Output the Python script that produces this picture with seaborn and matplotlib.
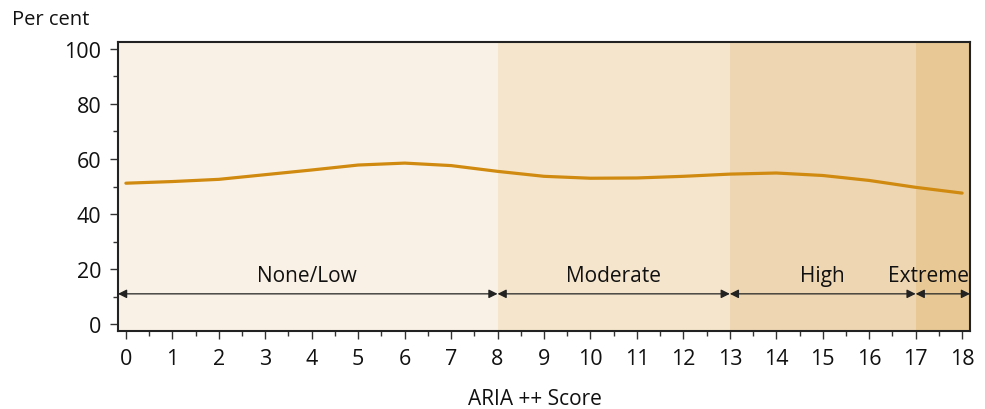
import matplotlib
matplotlib.use("Agg")
import matplotlib.pyplot as plt
import seaborn as sns
import pandas as pd
from matplotlib.ticker import MultipleLocator

score = list(range(19))
per_cent = [51.2, 51.8, 52.6, 54.3, 56.0, 57.8, 58.5, 57.6, 55.5, 53.7,
            53.0, 53.1, 53.7, 54.5, 54.9, 54.0, 52.2, 49.7, 47.6]

band_names = ["None/Low", "Moderate", "High", "Extreme"]
band_starts = [-0.17, 8, 13, 17]
band_ends = [8, 13, 17, 18.17]
band_colors = ["#FAF1E6", "#F5E5CC", "#EED6B2", "#E8C995"]
label_x = [3.9, 10.5, 15.0, 17.27]

sns.set_theme(style="white")
plt.rcParams['font.family'] = ['Open Sans', 'DejaVu Sans']

fig = plt.figure(figsize=(9.85, 4.1), dpi=100)
ax = fig.add_axes([118/985, 78/410, 852/985, 289/410])

for s, e, c in zip(band_starts, band_ends, band_colors):
    ax.axvspan(s, e, color=c, lw=0, zorder=0)

df = pd.DataFrame({"score": score, "per_cent": per_cent})
sns.lineplot(data=df, x="score", y="per_cent", ax=ax, color="#D08A10", lw=2.3, zorder=3)

for s, e, name, lx in zip(band_starts, band_ends, band_names, label_x):
    ax.annotate("", xy=(e, 11), xytext=(s, 11),
                arrowprops=dict(arrowstyle="<|-|>", color="#222222", lw=0.9,
                                mutation_scale=13, shrinkA=0, shrinkB=0))
    ax.text(lx, 17.5, name, ha="center", va="center", fontsize=15, color="#111111")

ax.set_xlim(-0.17, 18.17)
ax.set_ylim(-2.5, 102.5)
ax.xaxis.set_major_locator(MultipleLocator(1))
ax.xaxis.set_minor_locator(MultipleLocator(0.5))
ax.yaxis.set_major_locator(MultipleLocator(20))
ax.yaxis.set_minor_locator(MultipleLocator(10))
ax.tick_params(axis="both", which="major", direction="out", length=6, width=1,
               color="#333333", labelsize=15.5, labelcolor="#111111", pad=6,
               bottom=True, left=True)
ax.tick_params(axis="both", which="minor", direction="out", length=3.5, width=1,
               color="#333333", bottom=True, left=True)
for sp in ax.spines.values():
    sp.set_visible(True)
    sp.set_color("#222222")
    sp.set_linewidth(1.5)
ax.set_xlabel("")
ax.set_ylabel("")

fig.text(12/985, 1 - 20/410, "Per cent", ha="left", va="center", fontsize=14.5, color="#111111")
fig.text(535/985, 1 - 400/410, "ARIA ++ Score", ha="center", va="center", fontsize=15, color="#111111")

fig.savefig("out.png", dpi=100)
